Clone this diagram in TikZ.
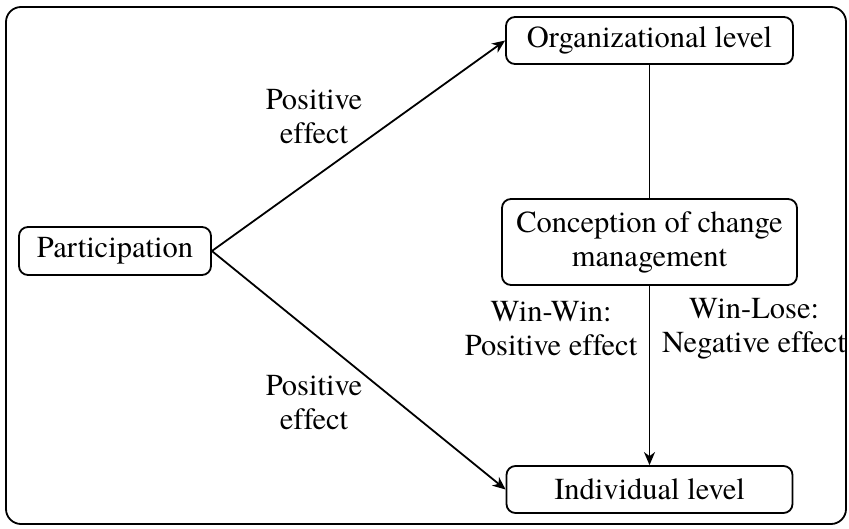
\documentclass[tikz,border=0pt]{standalone}
\usepackage{fontspec}
\setmainfont{TeX Gyre Termes}[Ligatures=NoCommon]
\usetikzlibrary{arrows.meta}
\begin{document}
\begin{tikzpicture}[x=1pt,y=-1pt,
  every node/.style={font=\rmfamily\fontsize{30.5pt}{34pt}\selectfont},
  boxnode/.style={draw, line width=1.8pt, rounded corners=9pt, inner sep=0pt, align=center},
  lbl/.style={inner sep=0pt, align=center},
  conn/.style={line width=1.8pt},
  arr/.style={conn, -{Stealth[length=13pt,width=11pt,inset=4pt]}}]
\useasboundingbox (0,0) rectangle (849,528);
\draw[line width=1.8pt, rounded corners=15pt] (6,7) rectangle (846,524);
\node[boxnode, minimum width=192pt, minimum height=48pt] (part) at (115,251) {Participation};
\node[boxnode, minimum width=287pt, minimum height=47pt] (org) at (649.5,40.5) {Organizational level};
\node[boxnode, minimum width=295pt, minimum height=86pt] (conc) at (649.5,242) {Conception of change\\management};
\node[boxnode, minimum width=286pt, minimum height=47pt] (ind) at (649.5,489.5) {Individual level};
\node[lbl] (pu) at (314,117) {Positive\\effect};
\node[lbl] (pl) at (314,403) {Positive\\effect};
\node[lbl] (ww) at (551,329) {Win-Win:\\Positive effect};
\node[lbl] (wl) at (754,329) {Win-Lose:\\Negative effect};
\draw[arr] (part.east) -- (org.west);
\draw[arr] (part.east) -- (ind.west);
\draw[conn] (org) -- (conc);
\draw[arr] (conc) -- (ind);
\end{tikzpicture}
\end{document}
